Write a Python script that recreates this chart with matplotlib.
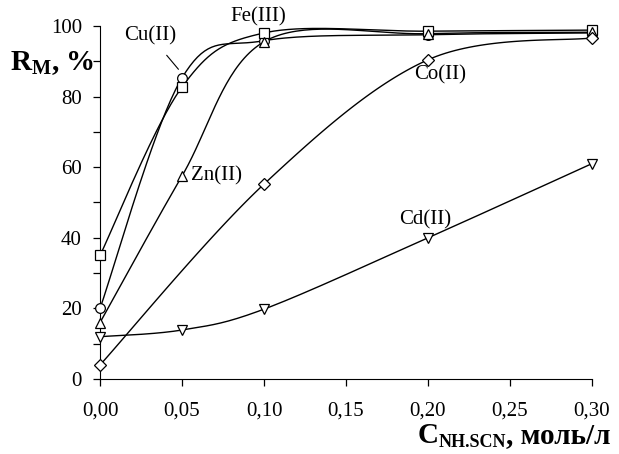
import numpy as np
import matplotlib
matplotlib.use("Agg")
import matplotlib.pyplot as plt
from matplotlib.ticker import MultipleLocator, FuncFormatter

plt.rcParams["font.family"] = ["Liberation Serif", "DejaVu Serif"]
plt.rcParams["mathtext.default"] = "regular"

# --- data ---
x_full = [0.00, 0.05, 0.10, 0.20, 0.30]
x_co = [0.00, 0.10, 0.20, 0.30]

cu = [20, 85.3, 95.8, 97.5, 98.0]
fe = [35, 82.7, 98.0, 98.5, 98.8]
zn = [16, 57.5, 95.5, 97.8, 98.2]
co = [4, 55.2, 90.4, 96.6]
cd = [12, 13.9, 19.8, 40, 61]

series = [
    ("Cu(II)", x_full, cu, "o"),
    ("Fe(III)", x_full, fe, "s"),
    ("Zn(II)", x_full, zn, "^"),
    ("Co(II)", x_co, co, "D"),
    ("Cd(II)", x_full, cd, "v"),
]


def smooth(xs, ys, n=40):
    # Excel-like smoothing: cubic Bezier through points (Catmull-Rom tangents)
    p = np.column_stack([xs, ys]).astype(float)
    pts = [p[0]]
    for i in range(len(p) - 1):
        p0 = p[i - 1] if i > 0 else p[i]
        p1, p2 = p[i], p[i + 1]
        p3 = p[i + 2] if i + 2 < len(p) else p[i + 1]
        c1 = p1 + (p2 - p0) / 6
        c2 = p2 - (p3 - p1) / 6
        t = np.linspace(0, 1, n)[1:, None]
        seg = ((1 - t) ** 3) * p1 + 3 * ((1 - t) ** 2) * t * c1 \
            + 3 * (1 - t) * t ** 2 * c2 + t ** 3 * p2
        pts.extend(seg)
    pts = np.array(pts)
    return pts[:, 0], pts[:, 1]


fig = plt.figure(figsize=(6.19, 4.54), dpi=100)
ax = fig.add_axes([0.1616, 0.165, 0.7947, 0.778])

for name, xs, ys, mk in series:
    sx, sy = smooth(xs, ys)
    ax.plot(sx, sy, color="black", lw=1.0, clip_on=False, zorder=2)
    ax.plot(xs, ys, ls="none", marker=mk, ms=7 if mk != "D" else 6,
            mfc="white", mec="black", mew=0.9, clip_on=False, zorder=3)

ax.set_xlim(0, 0.30)
ax.set_ylim(0, 100)
ax.xaxis.set_major_locator(MultipleLocator(0.05))
ax.yaxis.set_major_locator(MultipleLocator(20))
ax.yaxis.set_minor_locator(MultipleLocator(10))
ax.xaxis.set_major_formatter(FuncFormatter(lambda v, p: f"{v:.2f}".replace(".", ",")))
ax.yaxis.set_major_formatter(FuncFormatter(lambda v, p: f"{v:.0f}"))

for s in ("top", "right"):
    ax.spines[s].set_visible(False)
ax.tick_params(axis="both", which="both", direction="out", length=5,
               width=0.9, labelsize=15)
ax.tick_params(axis="x", pad=11)
ax.tick_params(axis="y", pad=8)

# annotations
ax.annotate("Cu(II)", xy=(0.05, 86.5), xytext=(0.0305, 97.3), fontsize=15,
            ha="center", va="center",
            arrowprops=dict(arrowstyle="-", lw=0.8, color="black",
                            shrinkA=7, shrinkB=4))
ax.text(0.0965, 102.5, "Fe(III)", fontsize=15, ha="center", va="center")
ax.text(0.0555, 57.5, "Zn(II)", fontsize=15, ha="left", va="center")
ax.text(0.2073, 86.0, "Co(II)", fontsize=15, ha="center", va="center")
ax.text(0.198, 45.0, "Cd(II)", fontsize=15, ha="center", va="center")

# y label
fig.text(0.016, 0.862, r"R$_{M}$, %", fontsize=21, fontweight="bold",
         ha="left", va="center")

# x label built right to left: ", моль/л" <- subscript <- "C"
t_unit = fig.text(0.986, 0.024, ", моль/л", fontsize=21, fontweight="bold",
                  ha="right", va="baseline")
t_sub = fig.add_artist(plt.Annotation(
    "NH.SCN", xy=(0, 0), xycoords=t_unit, xytext=(0, 1.5),
    textcoords="offset points", fontsize=13, fontweight="bold",
    ha="right", va="baseline"))
fig.add_artist(plt.Annotation(
    "C", xy=(0, 0), xycoords=t_sub, xytext=(0, 5.5),
    textcoords="offset points", fontsize=21, fontweight="bold",
    ha="right", va="baseline"))

fig.savefig("out.png", dpi=100)
